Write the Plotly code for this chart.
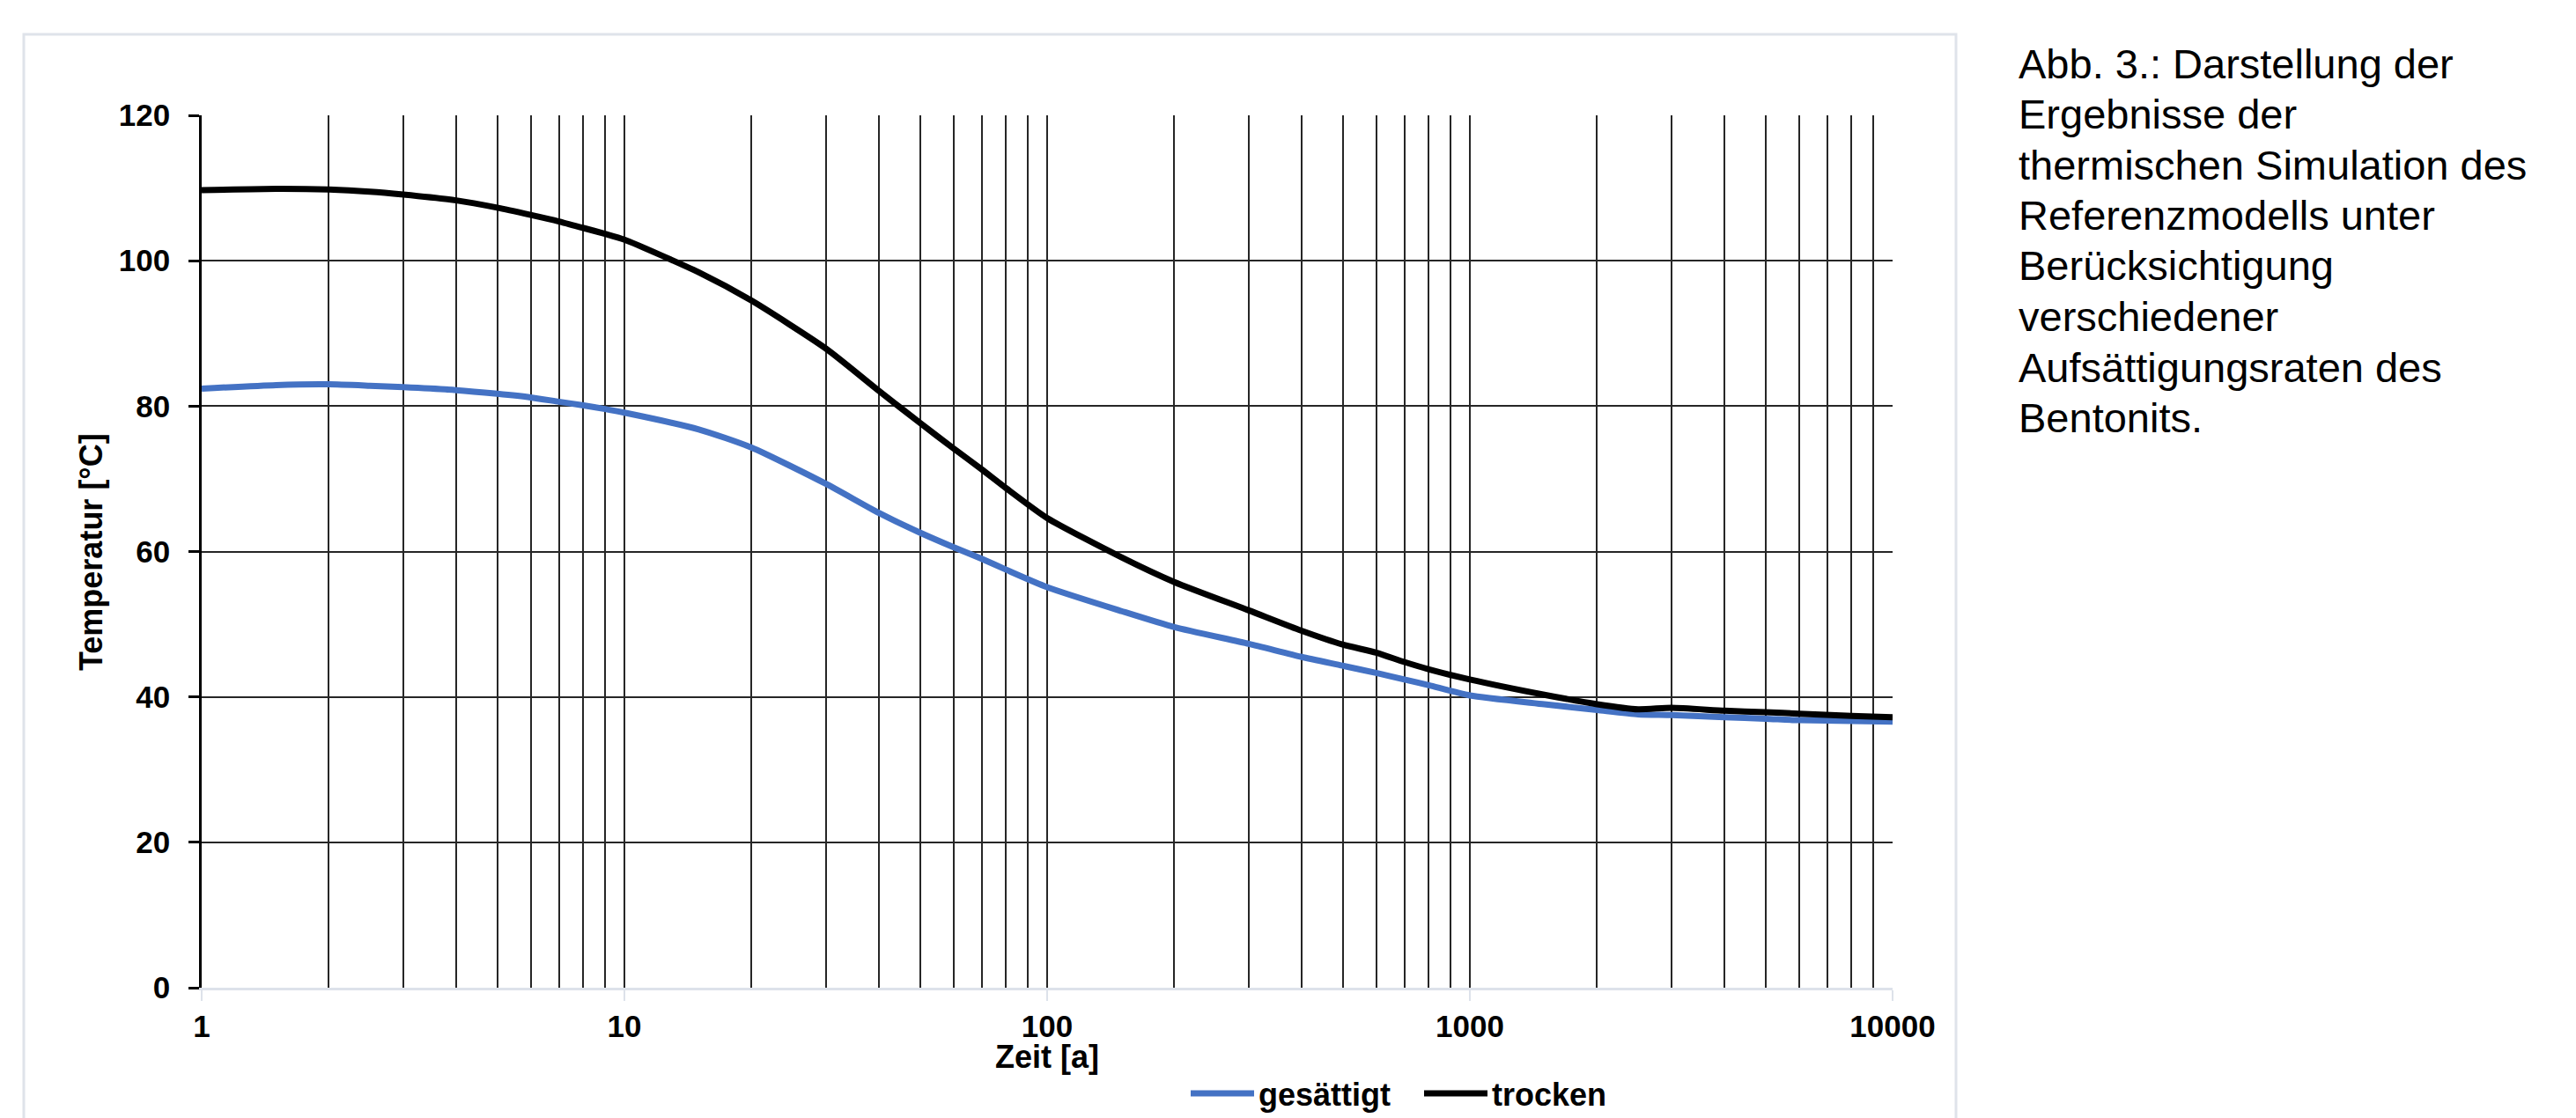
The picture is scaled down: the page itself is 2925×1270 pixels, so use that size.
import plotly.graph_objects as go

# ---- data ----
zeit = [1, 1.5, 2, 2.5, 3, 4, 5, 6, 7, 8, 9, 10, 15, 20, 30, 40, 50, 60, 70, 80,
        100, 150, 200, 300, 400, 500, 600, 700, 800, 1000, 1500, 2000, 2500,
        3000, 4000, 5000, 6000, 8000, 10000]
trocken = [109.7, 109.9, 109.8, 109.5, 109.1, 108.3, 107.3, 106.3, 105.4, 104.5,
           103.7, 102.9, 98.4, 94.5, 87.9, 82.1, 77.7, 74.2, 71.3, 68.7,
           64.6, 59.2, 55.8, 51.9, 49.1, 47.2, 46.1, 44.8, 43.8, 42.4, 40.3,
           39.0, 38.3, 38.5, 38.1, 37.9, 37.7, 37.4, 37.2]
gesaettigt = [82.4, 82.9, 83.0, 82.8, 82.6, 82.2, 81.7, 81.2, 80.6, 80.1,
              79.6, 79.1, 76.8, 74.3, 69.3, 65.3, 62.6, 60.6, 59.0, 57.5,
              55.1, 51.8, 49.6, 47.3, 45.5, 44.3, 43.3, 42.4, 41.6, 40.2, 39.0,
              38.2, 37.6, 37.5, 37.2, 37.0, 36.8, 36.7, 36.6]

x_major = [1, 10, 100, 1000, 10000]
x_major_text = ["1", "10", "100", "1000", "10000"]
x_minor = [m * d for d in [1, 10, 100, 1000] for m in range(2, 10)]
y_ticks = [0, 20, 40, 60, 80, 100, 120]

caption_lines = ["Abb. 3.: Darstellung der", "Ergebnisse der",
                 "thermischen Simulation des", "Referenzmodells unter",
                 "Berücksichtigung", "verschiedener",
                 "Aufsättigungsraten des", "Bentonits."]

# ---- layout geometry ----
W, H = 2925, 1270
L, R, T, B = 229, 2149, 131, 1122
FONT = "Liberation Sans, Arial, sans-serif"
GRID = "#262626"


def px_to_paper_x(px):
    return (px - L) / (R - L)


def px_to_paper_y(py):
    return (B - py) / (B - T)


fig = go.Figure()
fig.add_trace(go.Scatter(x=zeit, y=gesaettigt, mode="lines", name="gesättigt",
                         line=dict(color="#4472C4", width=7, shape="spline", smoothing=0.6)))
fig.add_trace(go.Scatter(x=zeit, y=trocken, mode="lines", name="trocken",
                         line=dict(color="#000000", width=7, shape="spline", smoothing=0.6)))

fig.update_layout(
    width=W, height=H,
    margin=dict(l=L, r=W - R, t=T, b=H - B, pad=0, autoexpand=False),
    paper_bgcolor="white", plot_bgcolor="white",
    font=dict(family=FONT, color="black"),
    showlegend=True,
    legend=dict(orientation="h", x=px_to_paper_x(1347), y=px_to_paper_y(1242),
                xanchor="left", yanchor="middle",
                font=dict(family=FONT, size=36, color="black", weight="bold"),
                itemwidth=72, entrywidth=178, entrywidthmode="pixels",
                tracegroupgap=0, bgcolor="rgba(0,0,0,0)"),
    xaxis=dict(type="log", range=[0, 4],
               tickvals=x_major, ticktext=x_major_text,
               tickfont=dict(family=FONT, size=35, color="black", weight="bold"),
               ticks="outside", ticklen=12, tickwidth=2, tickcolor="#dde2ea",
               showline=True, linecolor="#dde2ea", linewidth=2.5,
               showgrid=True, gridcolor=GRID, gridwidth=1.6,
               minor=dict(tickvals=x_minor, showgrid=True, gridcolor=GRID,
                          gridwidth=1.6, ticks=""),
               zeroline=False, ticklabelstandoff=-1),
    yaxis=dict(range=[0, 120], tickvals=y_ticks,
               tickfont=dict(family=FONT, size=35, color="black", weight="bold"),
               ticks="outside", ticklen=12, tickwidth=2.5, tickcolor="black",
               showline=True, linecolor="black", linewidth=2.5,
               showgrid=True, gridcolor=GRID, gridwidth=1.6,
               zeroline=False, ticklabelstandoff=14),
)

# outer light frame
fig.add_shape(type="rect", xref="paper", yref="paper",
              x0=px_to_paper_x(27), x1=px_to_paper_x(2221),
              y0=px_to_paper_y(1290), y1=px_to_paper_y(39),
              line=dict(color="#dfe3ea", width=3), fillcolor="rgba(0,0,0,0)",
              layer="below")

# axis titles
fig.add_annotation(text="Temperatur [°C]", xref="paper", yref="paper",
                   x=px_to_paper_x(103), y=px_to_paper_y(627), textangle=-90,
                   showarrow=False, xanchor="center", yanchor="middle",
                   font=dict(family=FONT, size=36, color="black", weight="bold"))
fig.add_annotation(text="Zeit [a]", xref="paper", yref="paper",
                   x=px_to_paper_x(1189), y=px_to_paper_y(1200),
                   showarrow=False, xanchor="center", yanchor="middle",
                   font=dict(family=FONT, size=36, color="black", weight="bold"))

# caption text on the right
for i, line in enumerate(caption_lines):
    fig.add_annotation(text=line, xref="paper", yref="paper",
                       x=px_to_paper_x(2290), y=px_to_paper_y(72 + 57.5 * i),
                       showarrow=False, xanchor="left", yanchor="middle",
                       align="left",
                       font=dict(family=FONT, size=47, color="black"))

# remove the browser's default page margin so the figure sits at (0, 0)
fig.write_html("out.html", config={"displayModeBar": False},
               post_script="document.body.style.margin='0';document.body.style.overflow='hidden';")
